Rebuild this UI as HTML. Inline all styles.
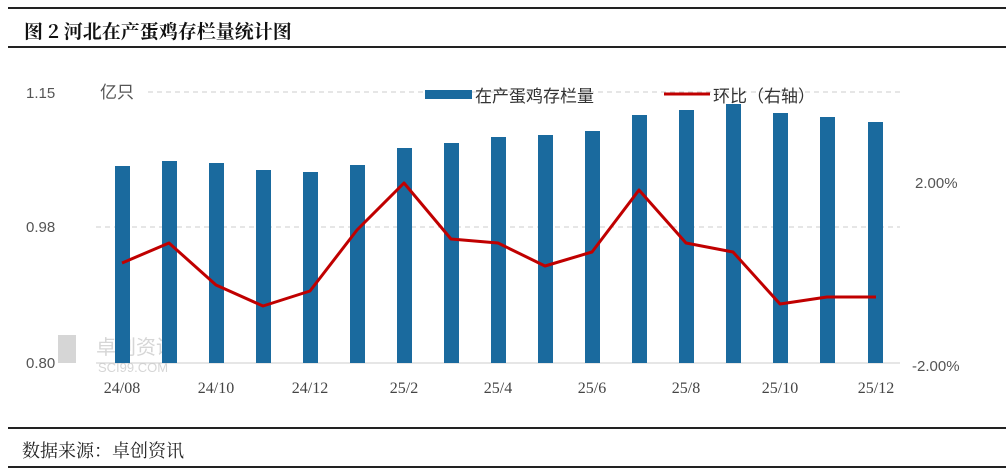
<!DOCTYPE html>
<html><head><meta charset="utf-8"><style>
body{margin:0;background:#fff;width:1006px;height:471px;overflow:hidden}
svg{display:block}
</style></head><body>
<svg width="1006" height="471" xmlns="http://www.w3.org/2000/svg" font-family="'Liberation Sans','Noto Sans CJK SC',sans-serif">
<rect width="1006" height="471" fill="#fff"/>
<line x1="8" y1="8" x2="1006" y2="8" stroke="#222" stroke-width="2"/>
<line x1="8" y1="47" x2="1006" y2="47" stroke="#222" stroke-width="2"/>
<text x="24" y="38" font-size="19" font-weight="bold" fill="#111" font-family="'Noto Serif CJK SC','Noto Sans CJK SC',serif">图 2 河北在产蛋鸡存栏量统计图</text>
<line x1="8" y1="428" x2="1006" y2="428" stroke="#222" stroke-width="2"/>
<line x1="8" y1="467" x2="1006" y2="467" stroke="#222" stroke-width="2"/>
<text x="22" y="457" font-size="18" fill="#222" font-family="'Noto Serif CJK SC','Noto Sans CJK SC',serif">数据来源：卓创资讯</text>
<g stroke="#ccc" stroke-dasharray="5,4" stroke-width="1">
<line x1="148" y1="92" x2="900" y2="92"/>
<line x1="96" y1="227" x2="900" y2="227"/>
</g>
<line x1="96" y1="363" x2="900" y2="363" stroke="#ccc"/>
<g font-size="15" fill="#555">
<text x="26" y="98">1.15</text>
<text x="26" y="232">0.98</text>
<text x="26" y="368">0.80</text>
<text x="100" y="98" font-size="17">亿只</text>
<text x="915" y="188">2.00%</text>
<text x="912" y="371">-2.00%</text>
</g>
<g fill="#ccc" opacity="0.8"><rect x="58" y="335" width="18" height="28"/><text x="96" y="354" font-size="20">卓创资讯</text><text x="98" y="372" font-size="13">SCI99.COM</text></g>
<g fill="#1a6a9e">
<rect x="115" y="166" width="15" height="197"/>
<rect x="162" y="161" width="15" height="202"/>
<rect x="209" y="163" width="15" height="200"/>
<rect x="256" y="170" width="15" height="193"/>
<rect x="303" y="172" width="15" height="191"/>
<rect x="350" y="165" width="15" height="198"/>
<rect x="397" y="148" width="15" height="215"/>
<rect x="444" y="143" width="15" height="220"/>
<rect x="491" y="137" width="15" height="226"/>
<rect x="538" y="135" width="15" height="228"/>
<rect x="585" y="131" width="15" height="232"/>
<rect x="632" y="115" width="15" height="248"/>
<rect x="679" y="110" width="15" height="253"/>
<rect x="726" y="104" width="15" height="259"/>
<rect x="773" y="113" width="15" height="250"/>
<rect x="820" y="117" width="15" height="246"/>
<rect x="868" y="122" width="15" height="241"/>
</g>
<polyline fill="none" stroke="#c00000" stroke-width="3" stroke-linejoin="round" points="122,263 169,243 216,285 263,306 310,291 357,230 404,183 451,239 498,243 545,266 592,252 639,190 686,243 733,252 780,304 827,297 876,297"/>
<g font-size="16" fill="#444" font-family="'Liberation Serif','Noto Serif CJK SC',serif" text-anchor="middle">
<text x="122" y="393">24/08</text><text x="216" y="393">24/10</text><text x="310" y="393">24/12</text>
<text x="404" y="393">25/2</text><text x="498" y="393">25/4</text><text x="592" y="393">25/6</text>
<text x="686" y="393">25/8</text><text x="780" y="393">25/10</text><text x="876" y="393">25/12</text>
</g>
<rect x="425" y="90" width="47" height="9" fill="#1a6a9e"/>
<text x="475" y="102" font-size="17" fill="#333">在产蛋鸡存栏量</text>
<line x1="664" y1="94" x2="710" y2="94" stroke="#c00000" stroke-width="3"/>
<text x="713" y="102" font-size="17" fill="#333">环比（右轴）</text>
</svg>
</body></html>
